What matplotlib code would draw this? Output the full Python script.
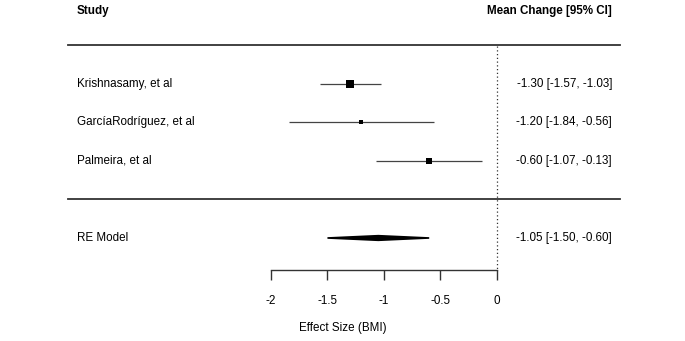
import matplotlib
matplotlib.use('Agg')
import matplotlib.pyplot as plt
from matplotlib.patches import Polygon

plt.rcParams['font.family'] = ['Liberation Sans', 'DejaVu Sans']
plt.rcParams['axes.unicode_minus'] = False

# study data
STUDIES = ['Krishnasamy, et al', 'GarcíaRodríguez, et al', 'Palmeira, et al']
EFFECTS = [-1.30, -1.20, -0.60]
LOWER = [-1.57, -1.84, -1.07]
UPPER = [-1.03, -0.56, -0.13]
WEIGHTS = [48.0, 16.0, 36.0]  # rough study weights (%), sets square size

# pooled estimate
RE_LABEL = 'RE Model'
RE_EST = -1.05
RE_LO = -1.50
RE_HI = -0.60

TICKS = [-2, -1.5, -1, -0.5, 0]
TICK_LABELS = ['-2', '-1.5', '-1', '-0.5', '0']

fig = plt.figure(figsize=(6.85, 3.41), dpi=100)
ax = fig.add_axes([0, 0, 1, 1])
ax.set_xlim(-4.398, 1.664)
ax.set_ylim(-1.675, 7.18)

rows = [5, 4, 3]
re_row = 1
txt_left = -3.72
txt_right = 1.018
fs = 8.4

# header
ax.text(txt_left, 6.9, 'Study', fontsize=fs, fontweight='bold', ha='left', va='center')
ax.text(txt_right, 6.9, 'Mean Change [95% CI]', fontsize=fs, fontweight='bold', ha='right', va='center')

# separator lines
ax.plot([-3.796, 1.088], [6, 6], color='#333333', lw=1.3)
ax.plot([-3.796, 1.088], [2, 2], color='#333333', lw=1.3)

# reference line at zero
ax.plot([0, 0], [5.98, 0.17], color='#333333', lw=0.9, ls=(0, (1, 2)))

wmin, wmax = min(WEIGHTS), max(WEIGHTS)
for i in range(len(STUDIES)):
    y = rows[i]
    ms = 2.2 + (WEIGHTS[i] - wmin) / (wmax - wmin) * 2.9
    ax.errorbar([EFFECTS[i]], [y], xerr=[[EFFECTS[i] - LOWER[i]], [UPPER[i] - EFFECTS[i]]],
                fmt='s', color='black', ecolor='#444444', elinewidth=0.9,
                capsize=1.6, capthick=0.9, markersize=ms, markeredgewidth=0)
    ax.text(txt_left, y, STUDIES[i], fontsize=fs, ha='left', va='center')
    ax.text(txt_right, y, '%.2f [%.2f, %.2f]' % (EFFECTS[i], LOWER[i], UPPER[i]),
            fontsize=fs, ha='right', va='center')

# pooled diamond
h = 0.06
ax.add_patch(Polygon([(RE_LO, re_row), (RE_EST, re_row + h), (RE_HI, re_row), (RE_EST, re_row - h)],
                     closed=True, facecolor='black', edgecolor='black', lw=1.2))
ax.text(txt_left, re_row, RE_LABEL, fontsize=fs, ha='left', va='center')
ax.text(txt_right, re_row, '%.2f [%.2f, %.2f]' % (RE_EST, RE_LO, RE_HI),
        fontsize=fs, ha='right', va='center')

# x axis
for s in ['left', 'right', 'top']:
    ax.spines[s].set_visible(False)
ax.spines['bottom'].set_position(('data', 0.17))
ax.spines['bottom'].set_bounds(-2, 0)
ax.spines['bottom'].set_color('#333333')
ax.spines['bottom'].set_linewidth(1.0)
ax.set_yticks([])
ax.set_xticks(TICKS)
ax.set_xticklabels(TICK_LABELS)
ax.tick_params(axis='x', direction='out', length=7, width=1.0, color='#333333',
               labelsize=fs, pad=11)
ax.set_xlabel('Effect Size (BMI)', fontsize=fs, labelpad=11)

fig.savefig('out.png', dpi=100, facecolor='white')
